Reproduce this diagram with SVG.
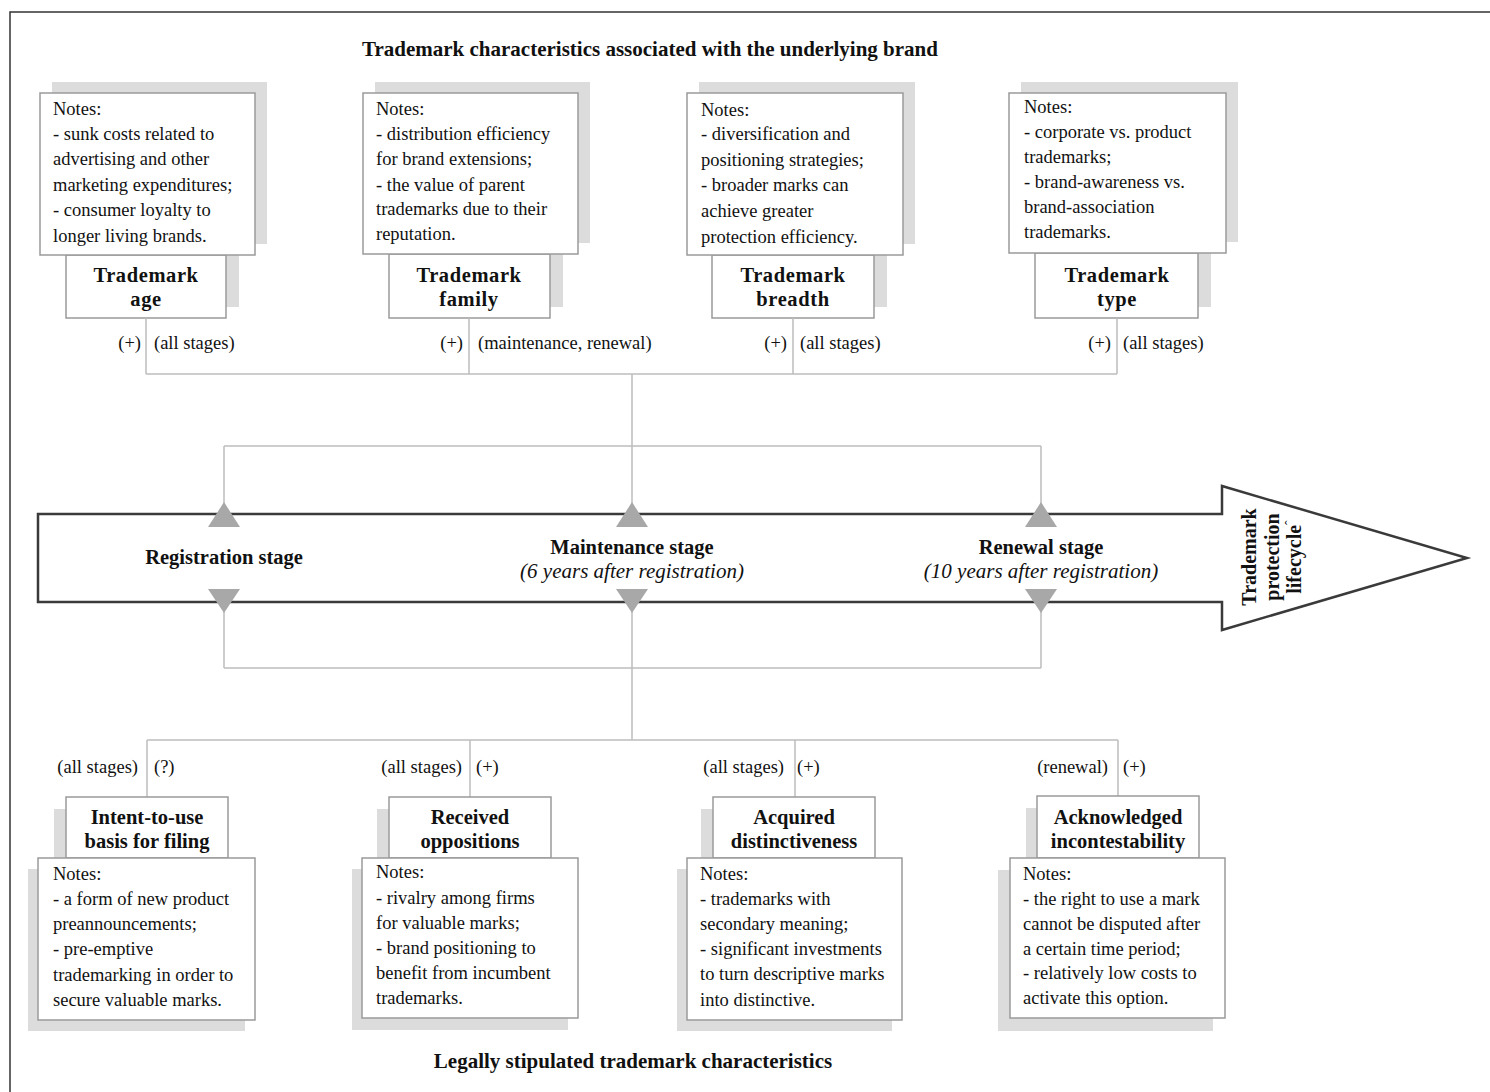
<svg xmlns="http://www.w3.org/2000/svg" width="1490" height="1092" viewBox="0 0 1490 1092">
<style>
.note{fill:#fff;stroke:#9a9a9a;stroke-width:1.5}
.sh{fill:#dcdcdc}
.t{font-family:"Liberation Serif","Times New Roman",serif;font-size:18.5px;fill:#111}
.b{font-family:"Liberation Serif","Times New Roman",serif;font-size:20.5px;font-weight:bold;fill:#111}
.h{font-size:21px}
.bt{letter-spacing:0.6px}
.i{font-family:"Liberation Serif","Times New Roman",serif;font-size:21px;font-style:italic;fill:#111}
.c{stroke:#bdbdbd;stroke-width:1.5;fill:none}
.tri{fill:#a8a8a8}
.m{text-anchor:middle}
.e{text-anchor:end}
</style>
<rect width="1490" height="1092" fill="#fff"/>
<path d="M10,1092 V12 H1490" fill="none" stroke="#333" stroke-width="1.5"/>

<text id="title-top" class="b h m" x="650" y="56">Trademark characteristics associated with the underlying brand</text>
<text id="title-bottom" class="b h m" x="633" y="1068">Legally stipulated trademark characteristics</text>

<!-- top nodes -->
<g id="tm-age">
<rect class="sh" x="79" y="244" width="160" height="63"/>
<rect class="sh" x="52" y="82" width="215" height="162"/>
<rect class="note" x="66" y="255" width="160" height="63"/>
<rect class="note" x="40" y="93" width="215" height="162"/>
<text class="t" x="53" y="115">Notes:</text>
<text class="t" x="53" y="140">- sunk costs related  to</text>
<text class="t" x="53" y="165">advertising and other</text>
<text class="t" x="53" y="191">marketing expenditures;</text>
<text class="t" x="53" y="216">- consumer loyalty  to</text>
<text class="t" x="53" y="242">longer living brands.</text>
<text class="b bt m" x="146" y="282">Trademark</text>
<text class="b bt m" x="146" y="306">age</text>
</g>
<g id="tm-family">
<rect class="sh" x="402" y="243" width="161" height="64"/>
<rect class="sh" x="375" y="82" width="215" height="161"/>
<rect class="note" x="389" y="254" width="161" height="64"/>
<rect class="note" x="363" y="93" width="215" height="161"/>
<text class="t" x="376" y="115">Notes:</text>
<text class="t" x="376" y="140">- distribution  efficiency</text>
<text class="t" x="376" y="165">for brand extensions;</text>
<text class="t" x="376" y="191">- the value of parent</text>
<text class="t" x="376" y="215">trademarks due to  their</text>
<text class="t" x="376" y="240">reputation.</text>
<text class="b bt m" x="469" y="282">Trademark</text>
<text class="b bt m" x="469" y="306">family</text>
</g>
<g id="tm-breadth">
<rect class="sh" x="725" y="244" width="162" height="63"/>
<rect class="sh" x="699" y="82" width="216" height="162"/>
<rect class="note" x="712" y="255" width="162" height="63"/>
<rect class="note" x="687" y="93" width="216" height="162"/>
<text class="t" x="701" y="116">Notes:</text>
<text class="t" x="701" y="140">- diversification  and</text>
<text class="t" x="701" y="166">positioning strategies;</text>
<text class="t" x="701" y="191">- broader marks  can</text>
<text class="t" x="701" y="217">achieve greater</text>
<text class="t" x="701" y="243">protection efficiency.</text>
<text class="b bt m" x="793" y="282">Trademark</text>
<text class="b bt m" x="793" y="306">breadth</text>
</g>
<g id="tm-type">
<rect class="sh" x="1048" y="242" width="163" height="65"/>
<rect class="sh" x="1021" y="82" width="217" height="160"/>
<rect class="note" x="1035" y="253" width="163" height="65"/>
<rect class="note" x="1009" y="93" width="217" height="160"/>
<text class="t" x="1024" y="113">Notes:</text>
<text class="t" x="1024" y="138">- corporate vs. product</text>
<text class="t" x="1024" y="163">trademarks;</text>
<text class="t" x="1024" y="188">- brand-awareness vs.</text>
<text class="t" x="1024" y="213">brand-association</text>
<text class="t" x="1024" y="238">trademarks.</text>
<text class="b bt m" x="1117" y="282">Trademark</text>
<text class="b bt m" x="1117" y="306">type</text>
</g>

<!-- lifecycle arrow -->
<g id="lifecycle">
<path d="M38,514 H1222 V486 L1467,558 L1222,630 V602 H38 Z" fill="#fff" stroke="#3a3a3a" stroke-width="2.5"/>
<text class="b m" x="224" y="564">Registration stage</text>
<text class="b m" x="632" y="554">Maintenance stage</text>
<text class="i m" x="632" y="578">(6 years after registration)</text>
<text class="b m" x="1041" y="554">Renewal stage</text>
<text class="i m" x="1041" y="578">(10 years after registration)</text>
<g transform="translate(0,557) rotate(-90)" font-family="Liberation Serif, Times New Roman, serif" font-weight="bold" font-size="20" fill="#111" text-anchor="middle">
<text x="0" y="1256">Trademark</text>
<text x="0" y="1279">protection</text>
<text x="0" y="1301">lifecycle<tspan font-weight="normal" font-size="14" dy="-6">ˆ</tspan></text>
</g>
</g>

<!-- connectors -->
<g id="connectors">
<path class="c" d="M146,318 V374 M469,318 V374 M793,318 V374 M1117,318 V374 M146,374 H1117 M632,374 V515 M224,446 H1041 M224,446 V515 M1041,446 V515"/>
<path class="c" d="M224,602 V668 M632,602 V740 M1041,602 V668 M224,668 H1041 M147,740 H1118 M147,740 V797 M470,740 V797 M795,740 V797 M1118,740 V796"/>
<polygon class="tri" points="208,527 240,527 224,502"/>
<polygon class="tri" points="616,527 648,527 632,502"/>
<polygon class="tri" points="1025,527 1057,527 1041,502"/>
<polygon class="tri" points="208,589 240,589 224,613"/>
<polygon class="tri" points="616,589 648,589 632,613"/>
<polygon class="tri" points="1025,589 1057,589 1041,613"/>
<text class="t e" x="141" y="349">(+)</text>
<text class="t" x="154" y="349">(all stages)</text>
<text class="t e" x="463" y="349">(+)</text>
<text class="t" x="478" y="349">(maintenance, renewal)</text>
<text class="t e" x="787" y="349">(+)</text>
<text class="t" x="800" y="349">(all stages)</text>
<text class="t e" x="1111" y="349">(+)</text>
<text class="t" x="1123" y="349">(all stages)</text>
<text class="t e" x="138" y="773">(all stages)</text>
<text class="t" x="154" y="773">(?)</text>
<text class="t e" x="462" y="773">(all stages)</text>
<text class="t" x="476" y="773">(+)</text>
<text class="t e" x="784" y="773">(all stages)</text>
<text class="t" x="797" y="773">(+)</text>
<text class="t e" x="1108" y="773">(renewal)</text>
<text class="t" x="1123" y="773">(+)</text>
</g>

<!-- bottom nodes -->
<g id="intent-to-use">
<rect class="sh" x="54" y="809" width="162" height="61"/>
<rect class="sh" x="28" y="869" width="217" height="162"/>
<rect class="note" x="66" y="797" width="162" height="61"/>
<rect class="note" x="38" y="858" width="217" height="162"/>
<text class="b m" x="147" y="824">Intent-to-use</text>
<text class="b m" x="147" y="848">basis for filing</text>
<text class="t" x="53" y="880">Notes:</text>
<text class="t" x="53" y="905">- a form of new product</text>
<text class="t" x="53" y="930">preannouncements;</text>
<text class="t" x="53" y="955">- pre-emptive</text>
<text class="t" x="53" y="981">trademarking  in order to</text>
<text class="t" x="53" y="1006">secure valuable marks.</text>
</g>
<g id="received-oppositions">
<rect class="sh" x="377" y="809" width="162" height="61"/>
<rect class="sh" x="352" y="869" width="216" height="161"/>
<rect class="note" x="389" y="797" width="162" height="61"/>
<rect class="note" x="362" y="858" width="216" height="160"/>
<text class="b m" x="470" y="824">Received</text>
<text class="b m" x="470" y="848">oppositions</text>
<text class="t" x="376" y="878">Notes:</text>
<text class="t" x="376" y="904">- rivalry  among firms</text>
<text class="t" x="376" y="929">for valuable marks;</text>
<text class="t" x="376" y="954">- brand positioning  to</text>
<text class="t" x="376" y="979">benefit from incumbent</text>
<text class="t" x="376" y="1004">trademarks.</text>
</g>
<g id="acquired-distinctiveness">
<rect class="sh" x="701" y="809" width="162" height="61"/>
<rect class="sh" x="677" y="869" width="215" height="162"/>
<rect class="note" x="713" y="797" width="162" height="61"/>
<rect class="note" x="687" y="858" width="215" height="162"/>
<text class="b m" x="794" y="824">Acquired</text>
<text class="b m" x="794" y="848">distinctiveness</text>
<text class="t" x="700" y="880">Notes:</text>
<text class="t" x="700" y="905">- trademarks  with</text>
<text class="t" x="700" y="930">secondary meaning;</text>
<text class="t" x="700" y="955">- significant  investments</text>
<text class="t" x="700" y="980">to turn descriptive marks</text>
<text class="t" x="700" y="1006">into distinctive.</text>
</g>
<g id="acknowledged-incontestability">
<rect class="sh" x="1026" y="808" width="162" height="62"/>
<rect class="sh" x="998" y="870" width="215" height="161"/>
<rect class="note" x="1037" y="796" width="162" height="62"/>
<rect class="note" x="1010" y="858" width="215" height="160"/>
<text class="b m" x="1118" y="824">Acknowledged</text>
<text class="b m" x="1118" y="848">incontestability</text>
<text class="t" x="1023" y="880">Notes:</text>
<text class="t" x="1023" y="905">- the right to use a mark</text>
<text class="t" x="1023" y="930">cannot be disputed  after</text>
<text class="t" x="1023" y="955">a certain  time period;</text>
<text class="t" x="1023" y="979">- relatively  low costs to</text>
<text class="t" x="1023" y="1004">activate this option.</text>
</g>
</svg>
